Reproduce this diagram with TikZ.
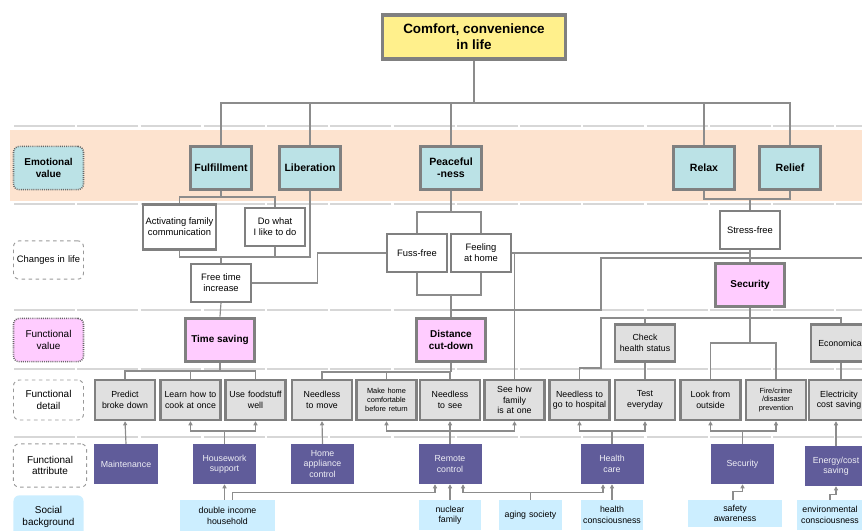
\documentclass[tikz,border=0pt]{standalone}
\usepackage{fontspec}
\setmainfont{Liberation Sans}
\usetikzlibrary{positioning,calc,arrows.meta}
\definecolor{peach}     {RGB}{253,227,207}
\definecolor{emoblue}   {RGB}{187,226,230}
\definecolor{topyellow} {RGB}{255,240,140}
\definecolor{fvpink}    {RGB}{255,204,255}
\definecolor{detailgray}{RGB}{224,224,224}
\definecolor{attrpurple}{RGB}{96, 92,154}
\definecolor{socialblue}{RGB}{204,238,255}
\definecolor{boxgray}   {RGB}{128,128,128}
\definecolor{linegray}  {RGB}{140,140,140}
\definecolor{sepgray}   {RGB}{215,215,215}
\newcommand\boxfontsize{\fontsize{7.5}{9}\selectfont}
\newcommand\tinyboxfontsize{\fontsize{6.3}{7.5}\selectfont}

\begin{document}
\begin{tikzpicture}[x=0.03cm,y=-0.03cm,
  font=\boxfontsize,
  topnode/.style={fill=topyellow,draw=boxgray,line width=3pt,font=\bfseries\fontsize{11.5}{13.5}\selectfont,minimum width=5.5cm,minimum height=1.32cm,align=center,inner sep=1pt},
  emotion/.style={fill=emoblue,draw=boxgray,line width=3pt,font=\bfseries\fontsize{9}{10.5}\selectfont,minimum width=1.82cm,minimum height=1.3cm,align=center,inner sep=1pt},
  change/.style={fill=white,draw=boxgray,line width=1.8pt,font=\fontsize{8}{9.5}\selectfont,minimum width=1.78cm,minimum height=1.12cm,align=center,inner sep=1pt},
  fvalue/.style={fill=fvpink,draw=boxgray,line width=3pt,font=\bfseries\fontsize{8.5}{10}\selectfont,minimum width=2.08cm,minimum height=1.3cm,align=center,inner sep=1pt},
  detail/.style={fill=detailgray,draw=boxgray,line width=2pt,minimum width=1.78cm,minimum height=1.2cm,text width=1.72cm,align=center,inner sep=1pt},
  attr/.style={fill=attrpurple,text=white!90!attrpurple,minimum width=1.89cm,minimum height=1.2cm,text width=1.8cm,align=center,inner sep=1pt},
  social/.style={fill=socialblue,minimum width=1.86cm,minimum height=0.9cm,text width=1.8cm,align=center,inner sep=1pt},
  rowlabel/.style={draw=black!40,dashed,rounded corners=5pt,line width=0.8pt,minimum width=2.1cm,minimum height=1.3cm,text width=2cm,align=center,inner sep=1pt,font=\fontsize{8.5}{10}\selectfont},
  keylabel/.style={rowlabel,draw=black!60,densely dotted,line width=1.3pt},
  link/.style={draw=linegray,line width=1pt},
  arr/.style={link,-{Triangle[length=3.5pt,width=3.5pt]}},
  sep/.style={draw=sepgray,line width=1.3pt,dash pattern=on 52pt off 2pt},
]

  \useasboundingbox (0,0) rectangle (862,531);
  \clip (0,0) rectangle (862,531);

  % Rows
  \fill[peach] (10,130) rectangle (862,201);
  \foreach \y in {126,204,310,369,437}
    \draw[sep] (14,\y) -- (862,\y);

  \node[keylabel,fill=emoblue,font=\bfseries\fontsize{8.5}{10}\selectfont] (lblemo) at (48.5,168) {Emotional\\value};
  \node[rowlabel,minimum height=1.15cm,font=\fontsize{8}{9.5}\selectfont] (lblchange) at (48.5,260) {Changes in life};
  \node[keylabel,fill=fvpink] (lblfval) at (48.5,340) {Functional\\value};
  \node[rowlabel,minimum height=1.2cm] (lbldetail) at (48.5,400) {Functional\\detail};
  \node[rowlabel,minimum width=2.2cm] (lblattr) at (50,465.5) {Functional\\attribute};
  \node[rowlabel,draw=none,fill=socialblue] (lblsocial) at (48.5,517) {Social\\background};

  \node[topnode] (top) at (474,37) {Comfort, convenience\\in life};

  % Emotional value
  \node[emotion] (fulfil) at (221,168) {Fulfillment};
  \node[emotion] (liber) at (310,168) {Liberation};
  \node[emotion] (peace) at (451,168) {Peaceful\\-ness};
  \node[emotion] (relax) at (704,168) {Relax};
  \node[emotion] (relief) at (790,168) {Relief};

  % Changes in life
  \node[change,minimum width=2.2cm,minimum height=1.35cm] (act) at (179.5,227) {Activating family\\communication};
  \node[change] (dowhat) at (275,227) {Do what\\I like to do};
  \node[change] (freetime) at (221,283) {Free time\\increase};
  \node[change] (fuss) at (417,253) {Fuss-free};
  \node[change] (feel) at (481,253) {Feeling\\at home};
  \node[change] (stress) at (750,230) {Stress-free};

  % Functional value
  \node[fvalue] (timesave) at (220,340) {Time saving};
  \node[fvalue] (distance) at (451,340) {Distance\\cut-down};
  \node[fvalue] (security) at (750,285) {Security};
  \node[detail,minimum height=1.12cm] (checkhealth) at (645,343) {Check\\health status};
  \node[detail,minimum height=1.12cm] (econ) at (841,343) {Economical};

  % Functional detail
  \node[detail] (predict) at (125,400) {Predict\\broke down};
  \node[detail] (learn) at (190.5,400) {Learn how to\\cook at once};
  \node[detail] (usefood) at (255.5,400) {Use foodstuff\\well};
  \node[detail] (move) at (322,400) {Needless\\to move};
  \node[detail,font=\tinyboxfontsize] (makehome) at (386.5,400) {Make home\\comfortable\\before return};
  \node[detail] (needsee) at (450,400) {Needless\\to see};
  \node[detail] (seehow) at (514.5,400) {See how\\family\\is at one};
  \node[detail] (hospital) at (579.5,400) {Needless to\\go to hospital};
  \node[detail] (test) at (645,400) {Test\\everyday};
  \node[detail] (look) at (710.5,400) {Look from\\outside};
  \node[detail,font=\tinyboxfontsize] (fire) at (776,400) {Fire/crime\\/disaster\\prevention};
  \node[detail] (elec) at (839,400) {Electricity\\cost saving};

  % Functional attribute
  \node[attr] (maint) at (126,464) {Maintenance};
  \node[attr] (housework) at (224.5,464) {Housework\\support};
  \node[attr] (appliance) at (322.5,464) {Home\\appliance\\control};
  \node[attr] (remote) at (450,464) {Remote\\control};
  \node[attr] (healthcare) at (612,464) {Health\\care};
  \node[attr] (secattr) at (742.5,464) {Security};
  \node[attr] (energy) at (836,466) {Energy/cost\\saving};

  % Social background
  \node[social,minimum width=2.85cm,minimum height=0.96cm,text width=2.7cm] (double) at (227.5,516) {double income\\household};
  \node[social] (nuclear) at (450,515) {nuclear\\family};
  \node[social] (aging) at (530.5,515) {aging society};
  \node[social] (healthcon) at (612,515) {health\\consciousness};
  \node[social,minimum width=2.82cm,minimum height=0.81cm,text width=2.7cm] (safety) at (735,513.5) {safety\\awareness};
  \node[social,minimum width=1.95cm,text width=1.9cm] (environ) at (830,515) {environmental\\consciousness};

  \coordinate (emobus) at (0,103);
  \coordinate (fulbus) at (0,197);
  \coordinate (relbus) at (0,199);
  \coordinate (peacebus) at (0,212);
  \coordinate (libbus) at (0,257);
  \coordinate (fussbus) at (0,295);
  \coordinate (secbus) at (0,318);
  \coordinate (lookbus) at (0,343);
  \coordinate (hospbus) at (0,368);
  \coordinate (timebus) at (0,371);
  \coordinate (distbus) at (0,372);
  \coordinate (attrbus) at (0,431);
  \coordinate (offright) at (870,258);
  \coordinate (offdown) at (601,310);
  \coordinate (secleft) at (601,318);

  % Tree from the top
  \draw[link] (top.south) -- (top.south |- emobus);
  \draw[link] (fulfil.north) |- (relief.north |- emobus) -- (relief.north);
  \foreach \n in {liber,peace,relax}
    \draw[link] (\n.north) -- (\n.north |- emobus);

  \draw[link] (fulfil.south) -- (fulfil.south |- fulbus);
  \draw[link] (act.north) |- (dowhat.north |- fulbus) -- (dowhat.north);
  \draw[link] (act.south) |- (liber.south |- libbus) -- (liber.south);
  \draw[link] (dowhat.south) -- (dowhat.south |- libbus);
  \draw[link] (freetime.north) -- (freetime.north |- libbus);
  \draw[link] (freetime.east) -- ++(66,0) |- (fuss.west);
  \draw[link] (freetime.south) -- (timesave.north);

  \draw[link] (peace.south) -- (peace.south |- peacebus);
  \draw[link] (fuss.north) |- (feel.north |- peacebus) -- (feel.north);
  \draw[link] (fuss.south) |- (feel.south |- fussbus) -- (feel.south);
  \draw[link] (distance.north) -- (distance.north |- fussbus);
  \draw[link] (offright) -| (offdown) -| (distance.north);

  \draw[link] (relax.south) |- (relief.south |- relbus) -- (relief.south);
  \draw[link] (stress.north) -- (stress.north |- relbus);
  \draw[link] (stress.south) -- (security.north);
  \draw[link] (feel.east) -- (feel.east -| security.north);
  \draw[link] (feel.east -| seehow.north) -- (seehow.north);

  % Functional value to detail
  \draw[link] (timesave.south) -- (timesave.south |- timebus);
  \draw[link] (predict.north) |- (usefood.north |- timebus) -- (usefood.north);
  \draw[link] (learn.north) -- (learn.north |- timebus);
  \draw[link] (distance.south) -- (distance.south |- distbus);
  \draw[link] (move.north) |- (needsee.north |- distbus) -- (needsee.north);
  \draw[link] (makehome.north) -- (makehome.north |- distbus);
  \draw[link] (security.south) -- (security.south |- lookbus);
  \draw[link] (look.north) |- (fire.north |- lookbus) -- (fire.north);
  \draw[link] (hospital.north) |- (secleft |- hospbus) -- (secleft) -- (econ.north |- secbus) -- (econ.north);
  \draw[link] (checkhealth.north) -- (checkhealth.north |- secbus);
  \draw[link] (checkhealth.south) -- (test.north);
  \draw[link] (econ.south) -- (econ.south |- elec.north);

  % Attributes to detail
  \draw[arr] (maint.north) -- (predict.south);
  \draw[arr] (housework.north) |- (learn.south |- attrbus) -- (learn.south);
  \draw[arr] (housework.north) |- (usefood.south |- attrbus) -- (usefood.south);
  \draw[arr] (appliance.north) -- (move.south);
  \draw[arr] (remote.north) |- (makehome.south |- attrbus) -- (makehome.south);
  \draw[arr] (remote.north) -- (needsee.south);
  \draw[arr] (remote.north) |- (seehow.south |- attrbus) -- (seehow.south);
  \draw[arr] (healthcare.north) |- (hospital.south |- attrbus) -- (hospital.south);
  \draw[arr] (healthcare.north) |- (test.south |- attrbus) -- (test.south);
  \draw[arr] (secattr.north) |- (look.south |- attrbus) -- (look.south);
  \draw[arr] (secattr.north) |- (fire.south |- attrbus) -- (fire.south);
  \draw[arr] (energy.north) -- (energy.north |- elec.south);

  % Social background to attributes
  \draw[arr] (double.north -| housework.south) -- (housework.south);
  \draw[arr] ($(double.north)+(5,0)$) -- ++(0,-7) -| ($(remote.south)+(-15,0)$);
  \draw[arr] (nuclear.north) -- (remote.south);
  \draw[arr] (aging.north) -- ++(0,-7) -| ($(remote.south)+(13,0)$);
  \draw[arr] (aging.north) -- ++(0,-7) -| ($(healthcare.south)+(-9,0)$);
  \draw[arr] (healthcon.north) -- (healthcare.south);
  \draw[arr] ($(safety.north)+(-2,0)$) -- ++(0,-8) -| (secattr.south);
  \draw[arr] (environ.north) -- ++(0,-5) -| (energy.south);

\end{tikzpicture}
\end{document}
